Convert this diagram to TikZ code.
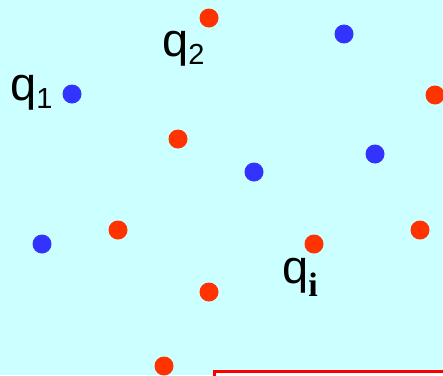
\documentclass[tikz,border=0pt]{standalone}
\usepackage{fontspec}
\setmainfont{Liberation Sans}
\newfontfamily\subserif{Liberation Serif}
\usepackage{tikz}
\usetikzlibrary{positioning}

\definecolor{bgcyan}{RGB}{204,255,255}
\definecolor{dotred}{RGB}{255,51,0}
\definecolor{dotblue}{RGB}{51,51,255}

\tikzset{
    reddot/.style={circle, fill=dotred, inner sep=0pt, minimum size=19pt},
    bluedot/.style={circle, fill=dotblue, inner sep=0pt, minimum size=19pt},
    qlabel/.style={anchor=base west, inner sep=0pt, font=\fontsize{47}{50}\selectfont}
}

\begin{document}
\begin{tikzpicture}[x=1pt,y=-1pt]
            % background
            \clip (0,0) rectangle (443,375);
            \fill[bgcyan] (0,0) rectangle (443,375);

            % box at the bottom
            \draw[red, line width=3pt, fill=white] (214,371) rectangle (470,400);

            % blue points
            \node[bluedot] (b1) at (72,94) {};
            \node[bluedot] (b2) at (344,34) {};
            \node[bluedot] (b3) at (254,172) {};
            \node[bluedot] (b4) at (375,154) {};
            \node[bluedot] (b5) at (42,244) {};

            % red points
            \node[reddot] (r1) at (209,18) {};
            \node[reddot] (r2) at (435,95) {};
            \node[reddot] (r3) at (178,139) {};
            \node[reddot] (r4) at (118,230) {};
            \node[reddot] (r5) at (314,244) {};
            \node[reddot] (r6) at (420,230) {};
            \node[reddot] (r7) at (209,292) {};
            \node[reddot] (r8) at (164,366) {};

            % labels
            \node[qlabel] (q1) at (10,100) {q\raisebox{-8pt}{\fontsize{29}{29}\selectfont 1}};
            \node[qlabel] (q2) at (162,56) {q\raisebox{-8pt}{\fontsize{29}{29}\selectfont 2}};
            \node[qlabel] (qi) at (282,283) {q\raisebox{-13pt}{\fontsize{34}{34}\selectfont\subserif\bfseries i}};
\end{tikzpicture}
\end{document}
